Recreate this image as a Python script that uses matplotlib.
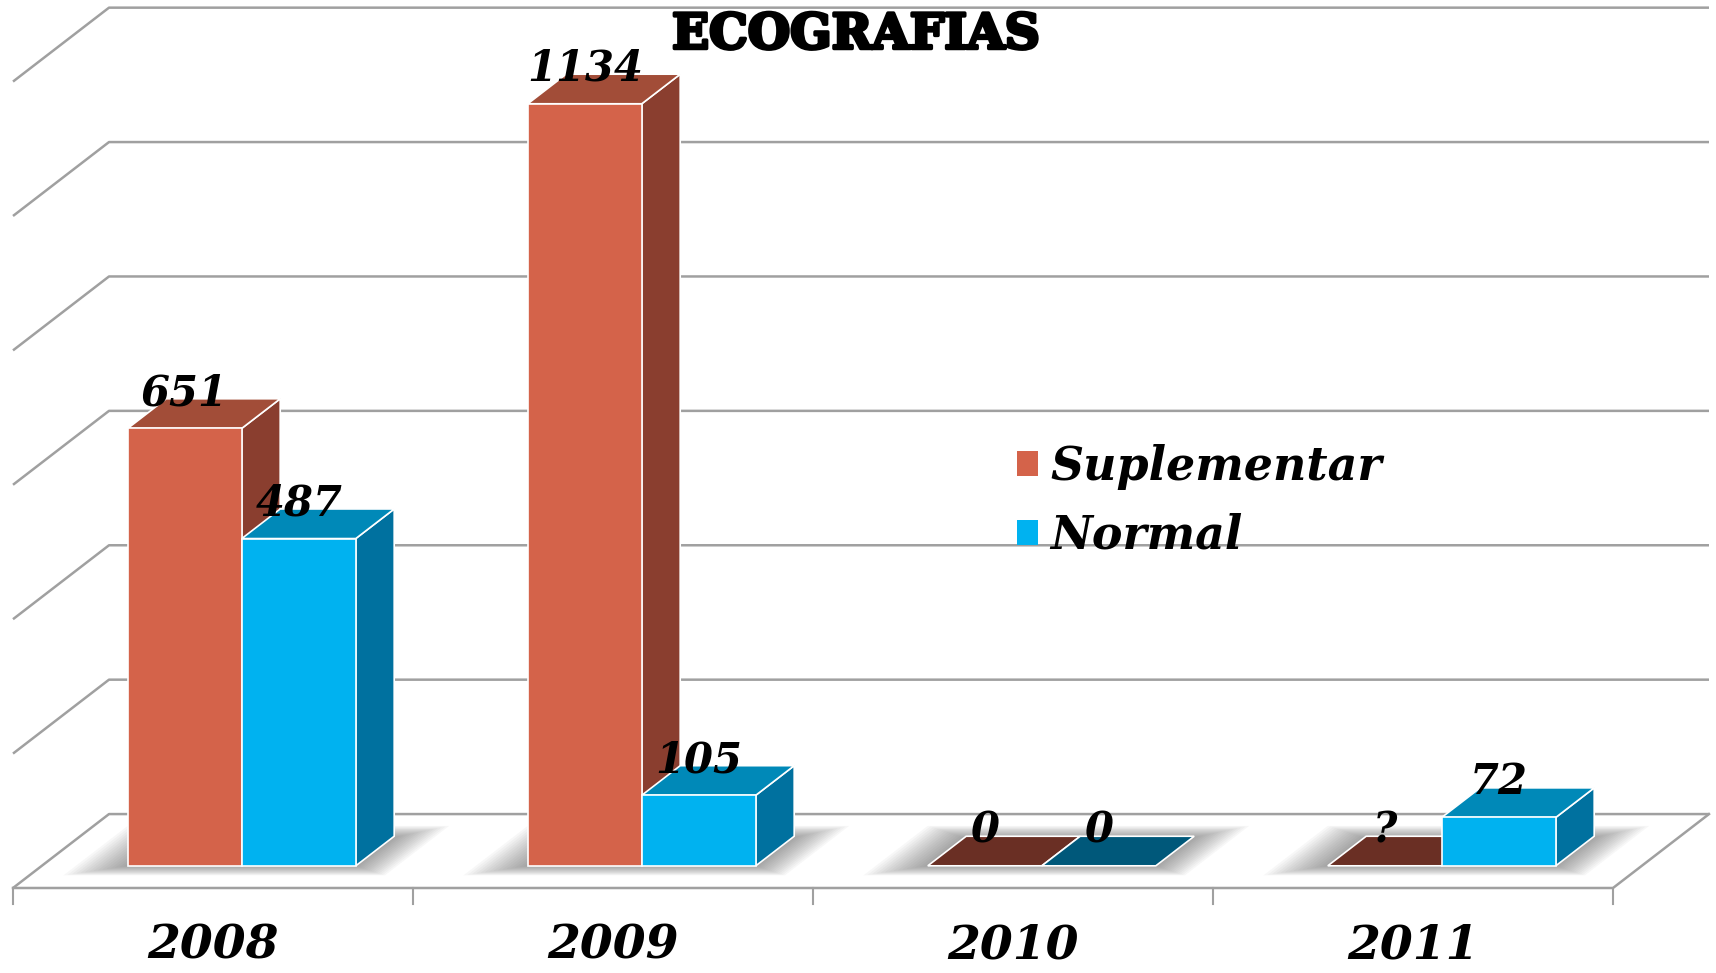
import numpy as np
import matplotlib.pyplot as plt
from matplotlib.patches import Polygon, Patch
import matplotlib.patheffects as pe

# data
years = ['2008', '2009', '2010', '2011']
suplementar = [651, 1134, 0, None]   # 2011 unknown, shown as "?"
normal = [487, 105, 0, 72]
series_names = ['Suplementar', 'Normal']
grid_values = [0, 200, 400, 600, 800, 1000, 1200]
title = 'ECOGRAFIAS'

# front, top, side, flat (zero height) colours per series
colors = {
    'Suplementar': ('#D4634A', '#A24D38', '#8A3E2F', '#6A2F24'),
    'Normal': ('#00B2F0', '#0089B8', '#00719F', '#00587A'),
}

DX, DV = 0.24, 110.0     # depth offset of the floor, in data units
D0, D1 = 0.3, 0.7        # depth span of the bars
BW = 0.285               # bar width (category units)
GRID = '#A0A0A0'
FONT = 'DejaVu Serif'


def pt(x, v, d):
    """project (x, value, depth) to the 2d data plane"""
    return (x + d * DX, v + d * DV)


fig = plt.figure(figsize=(17.16, 9.73), dpi=100)
ax = fig.add_axes([0, 0, 1, 1])
ax.set_xlim(-0.5325, 3.7575)
ax.set_ylim(-126.5, 1321.4)
ax.axis('off')

left, right = -0.5, len(years) - 0.5

# back wall gridlines + left wall diagonals
for v in grid_values:
    xs, ys = zip(pt(left, v, 0), pt(left, v, 1), pt(right, v, 1))
    ax.plot(xs, ys, color=GRID, lw=1.8, solid_capstyle='butt', zorder=1)

# floor front and right edges
xs, ys = zip(pt(left, 0, 0), pt(right, 0, 0), pt(right, 0, 1))
ax.plot(xs, ys, color=GRID, lw=1.8, zorder=1)

# category ticks
for i in range(len(years) + 1):
    ax.plot([left + i, left + i], [0, -24], color=GRID, lw=1.5, zorder=1)

# soft shadows under each pair of bars (stacked translucent parallelograms)
n = 16
for i in range(len(years)):
    for k in range(n):
        t = k / (n - 1)
        ex = 0.13 * (1 - t)
        dlo = 0.17 + 0.13 * t
        dhi = 0.84 - 0.16 * t
        xl, xr = i - BW - ex, i + BW + ex * 0.8
        ax.add_patch(Polygon([pt(xl, 0, dlo), pt(xr, 0, dlo), pt(xr, 0, dhi), pt(xl, 0, dhi)],
                             closed=True, facecolor='#484848', edgecolor='none',
                             alpha=0.04, zorder=2))

# bars
for i, year in enumerate(years):
    for j, (name, vals) in enumerate(zip(series_names, [suplementar, normal])):
        val = vals[i]
        h = 0 if val is None else val
        xl = i - BW + j * BW
        xr = xl + BW
        front, top, side, flat = colors[name]
        z = 3 + j
        if h == 0:
            ax.add_patch(Polygon([pt(xl, 0, D0), pt(xr, 0, D0), pt(xr, 0, D1), pt(xl, 0, D1)],
                                 facecolor=flat, edgecolor='white', lw=1.2, zorder=z))
        else:
            ax.add_patch(Polygon([pt(xr, 0, D0), pt(xr, 0, D1), pt(xr, h, D1), pt(xr, h, D0)],
                                 facecolor=side, edgecolor='white', lw=1.2, zorder=z))
            ax.add_patch(Polygon([pt(xl, h, D0), pt(xr, h, D0), pt(xr, h, D1), pt(xl, h, D1)],
                                 facecolor=top, edgecolor='white', lw=1.2, zorder=z))
            ax.add_patch(Polygon([pt(xl, 0, D0), pt(xr, 0, D0), pt(xr, h, D0), pt(xl, h, D0)],
                                 facecolor=front, edgecolor='white', lw=1.2, zorder=z))
        label = '?' if val is None else str(val)
        lx, ly = pt(xl + BW / 2, h + 30, D0)
        ax.text(lx, ly + (0.5 - D0) * DV, label, ha='center', va='center',
                fontsize=30, fontweight='bold', fontstyle='italic', family=FONT,
                color='black', zorder=10)

# category labels
for i, year in enumerate(years):
    ax.text(i, -85, year, ha='center', va='center', fontsize=34,
            fontweight='bold', fontstyle='italic', family=FONT)

# title
fig.text(856 / 1716, 1 - 35 / 973, title, ha='center', va='center',
         fontsize=35, fontweight='bold', family=FONT,
         path_effects=[pe.withStroke(linewidth=2.5, foreground='black')])

# legend
handles = [Patch(facecolor=colors[n][0], edgecolor='none') for n in series_names]
ax.legend(handles, series_names, loc='upper left', frameon=False,
          bbox_to_anchor=(1017 / 1716, 1 - 444 / 973), bbox_transform=fig.transFigure,
          prop={'family': FONT, 'size': 33, 'weight': 'bold', 'style': 'italic'},
          handlelength=0.45, handleheight=0.45, handletextpad=0.28,
          labelspacing=0.5, borderpad=0, borderaxespad=0)

fig.savefig('out.png', dpi=100)
